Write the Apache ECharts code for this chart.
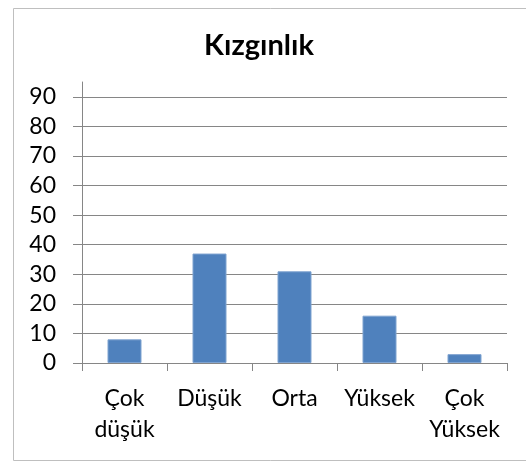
<!DOCTYPE html>
<html>
<head>
<meta charset="utf-8">
<script src="https://cdn.jsdelivr.net/npm/echarts@6/dist/echarts.min.js"></script>
<style>html,body{margin:0;padding:0;background:#fff;}#c{width:526px;height:461px;}</style>
</head>
<body>
<div id="c"></div>
<script>
const title = "Kızgınlık";
const categories = ["Çok düşük", "Düşük", "Orta", "Yüksek", "Çok Yüksek"];
const values = [8, 37, 31, 16, 3];
const yTicks = [0, 10, 20, 30, 40, 50, 60, 70, 80, 90];

const FONT = "Lato";
const chart = echarts.init(document.getElementById('c'), null, {renderer: 'canvas'});
chart.setOption({
  animation: false,
  backgroundColor: '#ffffff',
  graphic: [{
    type: 'rect', left: 11, top: 6, silent: true,
    shape: {x: 0, y: 0, width: 530, height: 452},
    style: {fill: 'none', stroke: '#bfbfbf', lineWidth: 1}
  }],
  title: {
    text: title, left: 254, top: 26, textAlign: 'center',
    textStyle: {fontFamily: FONT, fontWeight: 'bold', fontSize: 29, color: '#000'}
  },
  grid: {left: 82, right: 19, top: 82, bottom: 98, containLabel: false},
  xAxis: {
    type: 'category', data: categories,
    axisLine: {lineStyle: {color: '#868686', width: 1}},
    axisTick: {show: true, inside: false, length: 8, alignWithLabel: false, lineStyle: {color: '#868686'}},
    axisLabel: {
      interval: 0, margin: 20, fontFamily: FONT, fontSize: 23, color: '#000', lineHeight: 31,
      formatter: v => v.replace(' ', '\n')
    },
    splitLine: {show: false}
  },
  yAxis: {
    type: 'value', min: 0, max: 95, interval: 10,
    axisLine: {show: true, lineStyle: {color: '#868686', width: 1}},
    axisTick: {show: true, length: 9, lineStyle: {color: '#868686'}, customValues: yTicks},
    axisLabel: {margin: 26, fontFamily: FONT, fontSize: 23, color: '#000', customValues: yTicks},
    splitLine: {show: true, lineStyle: {color: '#868686', width: 1}}
  },
  series: [{
    type: 'bar', data: values, barWidth: '40%',
    itemStyle: {color: '#4F81BD', borderColor: '#7FA3D0', borderWidth: 1}
  }]
});
</script>
</body>
</html>
